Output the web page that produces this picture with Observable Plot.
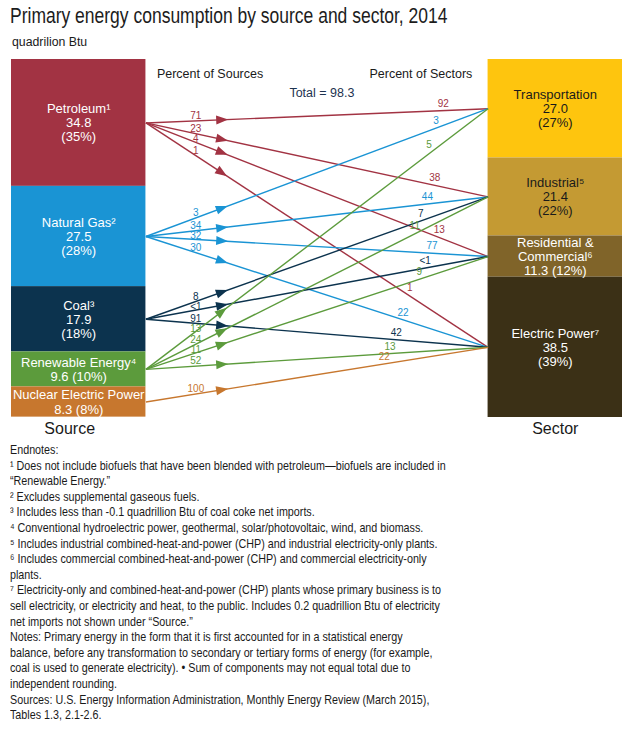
<!DOCTYPE html>
<html><head><meta charset="utf-8">
<script src="https://cdn.jsdelivr.net/npm/d3@7"></script>
<script src="https://cdn.jsdelivr.net/npm/@observablehq/plot@0.6"></script>
<style>
html,body{margin:0;padding:0;background:#fff;}
body{width:636px;height:729px;position:relative;overflow:hidden;color:#1a1a1a;}
.narrow{font-family:"Liberation Sans",Arial,Helvetica,sans-serif;transform-origin:0 0;}
#title{position:absolute;left:10px;top:4px;font-size:22px;line-height:24px;white-space:nowrap;transform:scaleX(0.795);color:#1c1c1c;}
#sub{position:absolute;left:12px;top:35px;font-family:"Liberation Sans",Arial,sans-serif;font-size:12.3px;line-height:14px;}
#chart{position:absolute;left:0;top:52px;}
#notes{position:absolute;left:10px;top:442px;font-size:12.8px;line-height:15.6px;white-space:nowrap;transform:scaleX(0.84);}
</style></head><body>
<div id="title" class="narrow">Primary energy consumption by source and sector, 2014</div>
<div id="sub">quadrilion Btu</div>
<div id="chart"></div>
<div id="notes" class="narrow"></div>
<script>
// ---------- data ----------
const sources = ["Petroleum", "Natural Gas", "Coal", "Renewable Energy", "Nuclear Electric Power"];
const sourceNotes = ["¹", "²", "³", "⁴", ""];
const sourceValues = [34.8, 27.5, 17.9, 9.6, 8.3];
const sourceShares = [35, 28, 18, 10, 8];

const sectors = ["Transportation", "Industrial", "Residential &\nCommercial", "Electric Power"];
const sectorNotes = ["", "⁵", "⁶", "⁷"];
const sectorValues = [27.0, 21.4, 11.3, 38.5];
const sectorShares = [27, 22, 12, 39];

const totalConsumption = 98.3;

const flowSource = ["Petroleum", "Petroleum", "Petroleum", "Petroleum",
  "Natural Gas", "Natural Gas", "Natural Gas", "Natural Gas",
  "Coal", "Coal", "Coal",
  "Renewable Energy", "Renewable Energy", "Renewable Energy", "Renewable Energy",
  "Nuclear Electric Power"];
const flowSector = ["Transportation", "Industrial", "Residential &\nCommercial", "Electric Power",
  "Transportation", "Industrial", "Residential &\nCommercial", "Electric Power",
  "Industrial", "Residential &\nCommercial", "Electric Power",
  "Transportation", "Industrial", "Residential &\nCommercial", "Electric Power",
  "Electric Power"];
const flowPctOfSource = ["71", "23", "4", "1", "3", "34", "32", "30", "8", "<1", "91", "13", "24", "11", "52", "100"];
const flowPctOfSector = ["92", "38", "13", "1", "3", "44", "77", "22", "7", "<1", "42", "5", "11", "9", "13", "22"];

const noteLines = [
  "Endnotes:",
  "¹ Does not include biofuels that have been blended with petroleum—biofuels are included in",
  "“Renewable Energy.”",
  "² Excludes supplemental gaseous fuels.",
  "³ Includes less than -0.1 quadrillion Btu of coal coke net imports.",
  "⁴ Conventional hydroelectric power, geothermal, solar/photovoltaic, wind, and biomass.",
  "⁵ Includes industrial combined-heat-and-power (CHP) and industrial electricity-only plants.",
  "⁶ Includes commercial combined-heat-and-power (CHP) and commercial electricity-only",
  "plants.",
  "⁷ Electricity-only and combined-heat-and-power (CHP) plants whose primary business is to",
  "sell electricity, or electricity and heat, to the public. Includes 0.2 quadrillion Btu of electricity",
  "net imports not shown under “Source.”",
  "Notes: Primary energy in the form that it is first accounted for in a statistical energy",
  "balance, before any transformation to secondary or tertiary forms of energy (for example,",
  "coal is used to generate electricity). • Sum of components may not equal total due to",
  "independent rounding.",
  "Sources: U.S. Energy Information Administration, Monthly Energy Review (March 2015),",
  "Tables 1.3, 2.1-2.6."
];

// ---------- styles ----------
const sourceColors = ["#a23343", "#1a94d4", "#0c334e", "#5c9b3c", "#c7772e"];
const sectorColors = ["#fec50e", "#c49a33", "#806429", "#3b3016"];
const sectorTextColors = ["#1a1a1a", "#1a1a1a", "#ffffff", "#ffffff"];
const W = 636, H = 390, mL = 11, mR = 14, mT = 7, mB = 25;
const colW = 0.22;                 // column width as fraction of x domain
const sectorLabelBase = [0.87, 0.84, 0.85, 0.76];
const FONT = "'Liberation Sans', Arial, Helvetica, sans-serif";

// ---------- layout from data ----------
function stack(names, values, shares, notes, colors, textColors) {
  let acc = 0;
  return names.map((n, i) => {
    const y1 = acc; acc += values[i];
    const compact = values[i] < 12;
    return {
      name: n, y1, y2: acc, mid: (y1 + acc) / 2, color: colors[i],
      textColor: textColors ? textColors[i] : "#ffffff",
      label: `${n}${notes[i]}\n${values[i].toFixed(1)}${compact ? " " : "\n"}(${shares[i]}%)`
    };
  });
}
const srcRows = stack(sources, sourceValues, sourceShares, sourceNotes, sourceColors);
const secRows = stack(sectors, sectorValues, sectorShares, sectorNotes, sectorColors, sectorTextColors);
const T = Math.max(d3.sum(sourceValues), d3.sum(sectorValues));

const X = Plot.scale({x: {domain: [0, 1], range: [mL, W - mR]}});
const Y = Plot.scale({y: {domain: [0, T], range: [mT, H - mB]}});

const secCount = {};
const flows = flowSource.map((s, i) => {
  const si = sources.indexOf(s), ti = sectors.indexOf(flowSector[i]);
  const kt = (secCount[ti] = (secCount[ti] ?? -1) + 1);
  const ys = srcRows[si].mid, yt = secRows[ti].mid;
  const p1 = [X.apply(colW), Y.apply(ys)], p2 = [X.apply(1 - colW), Y.apply(yt)];
  const dx = p2[0] - p1[0], dy = p2[1] - p1[1], len = Math.hypot(dx, dy);
  const nx = dy / len, ny = -dx / len;
  const at = (t, off) => [p1[0] + t * dx + off * nx, p1[1] + t * dy + off * ny];
  const ls = at(0.146, 0); ls[1] -= 5;          // source-end label, above the line
  const lt = at(sectorLabelBase[ti] - 0.015 * kt, 7);
  const ar = at(0.22, 0);
  return {
    ys, yt, color: sourceColors[si],
    pctSrc: flowPctOfSource[i], pctSec: flowPctOfSector[i],
    lsPx: ls, ltx: X.invert(lt[0]), lty: Y.invert(lt[1]), ax: X.invert(ar[0]), ay: Y.invert(ar[1]),
    angle: Math.atan2(dy, dx) * 180 / Math.PI + 90
  };
});
// keep source-end labels from colliding: push them apart vertically (min 10.5px)
const bySrcY = flows.slice().sort((a, b) => a.lsPx[1] - b.lsPx[1]);
bySrcY.forEach((f, i) => { if (i > 0) f.lsPx[1] = Math.max(f.lsPx[1], bySrcY[i - 1].lsPx[1] + 10.5); });
flows.forEach(f => { f.lsx = X.invert(f.lsPx[0]); f.lsy = Y.invert(f.lsPx[1]); });

const arrowHead = {draw(ctx) { ctx.moveTo(0, -7); ctx.lineTo(4.5, 5); ctx.lineTo(-4.5, 5); ctx.closePath(); }};

const chart = Plot.plot({
  width: W, height: H,
  marginLeft: mL, marginRight: mR, marginTop: mT, marginBottom: mB,
  x: {domain: [0, 1], axis: null},
  y: {domain: [0, T], reverse: true, axis: null},
  color: {type: "identity"},
  style: {fontFamily: FONT, background: "transparent", overflow: "visible"},
  marks: [
    Plot.rect(srcRows, {x1: 0, x2: colW, y1: "y1", y2: "y2", fill: "color"}),
    Plot.rect(secRows, {x1: 1 - colW, x2: 1, y1: "y1", y2: "y2", fill: "color"}),
    Plot.text(srcRows, {x: colW / 2, y: "mid", text: "label", fill: "textColor", fontSize: 13, lineHeight: 1.08}),
    Plot.text(secRows, {x: 1 - colW / 2, y: "mid", text: "label", fill: "textColor", fontSize: 13, lineHeight: 1.08}),
    Plot.link(flows, {x1: colW, y1: "ys", x2: 1 - colW, y2: "yt", stroke: "color", strokeWidth: 1.4}),
    Plot.dot(flows, {x: "ax", y: "ay", rotate: "angle", symbol: arrowHead, fill: "color", r: 5}),
    Plot.text(flows, {x: "lsx", y: "lsy", text: "pctSrc", fill: "color", fontSize: 10}),
    Plot.text(flows, {x: "ltx", y: "lty", text: "pctSec", fill: "color", fontSize: 10}),
    Plot.text(["Percent of Sources", "Percent of Sectors"], {x: [0.5 - 0.175, 0.5 + 0.17], frameAnchor: "top", dy: 10, text: d => d, fontSize: 12.5, fill: "#1a1a1a"}),
    Plot.text([`Total = ${totalConsumption}`], {x: [0.508], frameAnchor: "top", dy: 29, text: d => d, fontSize: 12.5, fill: "#1d3350"}),
    Plot.text(["Source"], {x: [colW / 2], y: [T], dx: -9, dy: 11, text: d => d, fontSize: 16, fill: "#1a1a1a"}),
    Plot.text(["Sector"], {x: [1 - colW / 2], y: [T], dy: 11, text: d => d, fontSize: 16, fill: "#1a1a1a"})
  ]
});
document.getElementById("chart").appendChild(chart);

const notes = document.getElementById("notes");
noteLines.forEach(l => { const d = document.createElement("div"); d.textContent = l; notes.appendChild(d); });
</script>
</body></html>
